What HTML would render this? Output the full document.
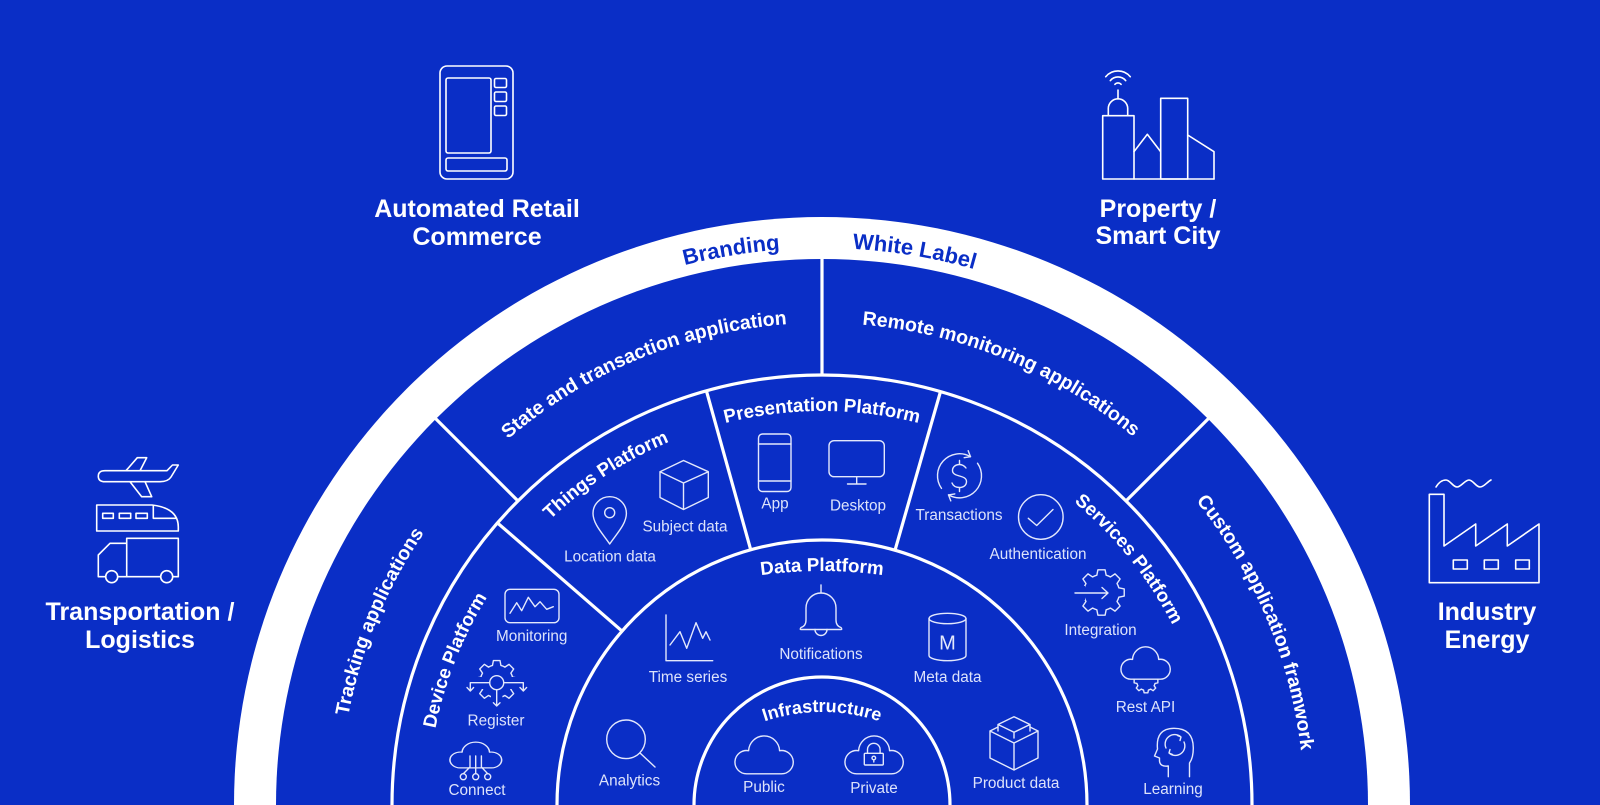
<!DOCTYPE html>
<html><head><meta charset="utf-8"><style>
html,body{margin:0;padding:0;background:#0a2ec6;overflow:hidden;width:1600px;height:805px}
svg{display:block}
</style></head><body>
<svg xmlns="http://www.w3.org/2000/svg" width="1600" height="805" viewBox="0 0 1600 805" font-family="'Liberation Sans', sans-serif" overflow="hidden">
<defs>
<path id="cloud" d="M12,40 H48 A12,12 0 1 0 45.98,16.18 A16,16 0 0 0 14.02,16.18 A12,12 0 1 0 12,40 Z"/>
<path id="gear" d="M7.53,-2.02 L9.88,-1.56 L9.88,1.56 L7.53,2.02 A7.8,7.8 0 0 1 6.75,3.9 L8.09,5.88 L5.88,8.09 L3.9,6.75 A7.8,7.8 0 0 1 2.02,7.53 L1.56,9.88 L-1.56,9.88 L-2.02,7.53 A7.8,7.8 0 0 1 -3.9,6.75 L-5.88,8.09 L-8.09,5.88 L-6.75,3.9 A7.8,7.8 0 0 1 -7.53,2.02 L-9.88,1.56 L-9.88,-1.56 L-7.53,-2.02 A7.8,7.8 0 0 1 -6.75,-3.9 L-8.09,-5.88 L-5.88,-8.09 L-3.9,-6.75 A7.8,7.8 0 0 1 -2.02,-7.53 L-1.56,-9.88 L1.56,-9.88 L2.02,-7.53 A7.8,7.8 0 0 1 3.9,-6.75 L5.88,-8.09 L8.09,-5.88 L6.75,-3.9 A7.8,7.8 0 0 1 7.53,-2.02 Z"/>
<path id="pBrand" d="M301,608.1 A557,557 0 0 1 1253,452.2"/>
<path id="pWhite" d="M392.2,450.7 A557,557 0 0 1 1343.7,609.9"/>
<path id="pState" d="M344.2,741.2 A482,482 0 0 1 1116.1,423.1"/>
<path id="pRemote" d="M528.6,422.6 A482,482 0 0 1 1299.9,742.1"/>
<path id="pTrack" d="M439.6,1098.4 A482,482 0 0 1 759.1,327.1"/>
<path id="pCustom" d="M882.4,326.8 A482,482 0 0 1 1205.9,1096.4"/>
<path id="pThings" d="M428.6,827 A394,394 0 0 1 999.7,453.3"/>
<path id="pPres" d="M480.8,608 A394,394 0 0 1 1163.2,608"/>
<path id="pDevice" d="M513.7,1050.3 A394,394 0 0 1 763.8,415.3"/>
<path id="pServ" d="M762.4,415.5 A394,394 0 0 1 1189.1,948.1"/>
<path id="pData" d="M432.3,796 A450,450 0 0 1 1211.7,796"/>
<path id="pInfra" d="M666.1,802 A180,180 0 0 1 977.9,802"/>
</defs>

<rect width="1600" height="805" fill="#0a2ec6"/>

<!-- rings (upper halves only) -->
<path d="M234,805 A588,588 0 0 1 1410,805 Z" fill="#fff"/>
<path d="M276,805 A546,546 0 0 1 1368,805 Z" fill="#0a2ec6"/>
<g stroke="#fff" stroke-width="3.2" fill="none">
  <path d="M392,805 A430,430 0 0 1 1252,805"/>
  <path d="M557,805 A265,265 0 0 1 1087,805"/>
  <path d="M694,805 A128,128 0 0 1 950,805"/>
  <line x1="822" y1="376" x2="822" y2="256"/>
  <line x1="1126.1" y1="500.9" x2="1210" y2="417"/>
  <line x1="517.9" y1="500.9" x2="434" y2="417"/>
  <line x1="895" y1="550.3" x2="940.5" y2="391.6"/>
  <line x1="750.7" y1="549.7" x2="706.4" y2="390.8"/>
  <line x1="622" y1="631.1" x2="497.5" y2="522.9"/>
</g>

<!-- ring labels -->
<g font-weight="700" text-anchor="middle">
  <text font-size="22" fill="#0a2ec6"><textPath href="#pBrand" startOffset="50%">Branding</textPath></text>
  <text font-size="22" fill="#0a2ec6"><textPath href="#pWhite" startOffset="50%">White Label</textPath></text>
  <g fill="#fff" font-size="19.5">
    <text><textPath href="#pState" startOffset="50%">State and transaction application</textPath></text>
    <text><textPath href="#pRemote" startOffset="50%">Remote monitoring applications</textPath></text>
    <text><textPath href="#pTrack" startOffset="50%">Tracking applications</textPath></text>
    <text><textPath href="#pCustom" startOffset="50%">Custom application framwork</textPath></text>
  </g>
  <g fill="#fff" font-size="18.8">
    <text><textPath href="#pThings" startOffset="50%">Things Platform</textPath></text>
    <text><textPath href="#pPres" startOffset="50%">Presentation Platform</textPath></text>
    <text><textPath href="#pDevice" startOffset="50%">Device Platform</textPath></text>
    <text><textPath href="#pServ" startOffset="50%">Services Platform</textPath></text>
    <text><textPath href="#pData" startOffset="50%">Data Platform</textPath></text>
    <text font-size="18"><textPath href="#pInfra" startOffset="50%">Infrastructure</textPath></text>
  </g>
</g>

<!-- outer category texts -->
<g fill="#fff" font-weight="700" font-size="25" text-anchor="middle">
  <text x="477" y="217">Automated Retail</text>
  <text x="477" y="245">Commerce</text>
  <text x="1158" y="217">Property /</text>
  <text x="1158" y="244">Smart City</text>
  <text x="140" y="620">Transportation /</text>
  <text x="140" y="648">Logistics</text>
  <text x="1487" y="620">Industry</text>
  <text x="1487" y="648">Energy</text>
</g>

<!-- outer icons -->
<g fill="none" stroke="#fff" stroke-width="1.6" stroke-linejoin="round" stroke-linecap="round">
  <rect x="440" y="66" width="73" height="113" rx="7"/>
  <rect x="446" y="78" width="45" height="75" rx="2"/>
  <rect x="494.5" y="78.5" width="12" height="9" rx="1.5"/>
  <rect x="494.5" y="92" width="12" height="9.5" rx="1.5"/>
  <rect x="494.5" y="106" width="12" height="9.5" rx="1.5"/>
  <rect x="446" y="158" width="61" height="13" rx="2"/>
  <rect x="1102.7" y="115.7" width="31.3" height="63.3"/>
  <path d="M1108.3,115.7 V108.5 A9.7,9.7 0 0 1 1127.7,108.5 V115.7"/>
  <path d="M1118,98.8 V90"/>
  <path d="M1114.9,84.4 A4,4 0 0 1 1121.1,84.4"/>
  <path d="M1110.3,80.6 A10,10 0 0 1 1125.7,80.6"/>
  <path d="M1105.7,76.7 A16,16 0 0 1 1130.3,76.7"/>
  <path d="M1134,151.7 L1147.3,134.3 L1160.7,151.7"/>
  <path d="M1134,179 H1214"/>
  <rect x="1160.7" y="98.3" width="27" height="80.7"/>
  <path d="M1187.7,135 L1214,151.7 V179"/>
  <path d="M105,470.7 H167 L172.5,465 H178.3 L171,477 Q168,481.7 160,481.7 H105 Q98.3,481.7 98.3,476.2 Q98.3,470.7 105,470.7 Z"/>
  <path d="M126,470.7 L137.3,457.7 H146.7 L140,470.7"/>
  <path d="M130,481.7 L141.7,496.7 H151.7 L145,481.7"/>
  <path d="M96.7,505 H152 Q178.3,508 178.3,527 V531 H96.7 Z"/>
  <path d="M153.3,505.5 V518.3 H176.5"/>
  <rect x="102.7" y="513.3" width="10.6" height="5"/>
  <rect x="119.3" y="513.3" width="11.4" height="5"/>
  <rect x="136" y="513.3" width="11.3" height="5"/>
  <rect x="126.7" y="538.3" width="51.6" height="38.4"/>
  <path d="M126.7,543.3 H110 L98.3,555 V576.7 H126.7"/>
  <circle cx="111.7" cy="576.7" r="6" fill="#0a2ec6"/>
  <circle cx="166.7" cy="576.7" r="6" fill="#0a2ec6"/>
  <path d="M1436,487 c3,-5 6,-7 10,-7 c4,0 7,7 11,7 c4,0 8,-7 12,-7 c4,0 7,7 11,7 c4,0 7,-5 11,-7"/>
  <path d="M1429.3,582.7 V494.3 H1444 V546 L1475.7,524 V546 L1507.3,524 V546 L1539,524 V582.7 Z"/>
  <rect x="1453.3" y="560" width="14" height="9"/>
  <rect x="1484.3" y="560" width="14" height="9"/>
  <rect x="1515.7" y="560" width="13.6" height="9"/>
</g>

<!-- inner icons -->
<g fill="none" stroke="#e3e8fc" stroke-width="1.4" stroke-linejoin="round" stroke-linecap="round">
  <path d="M609.7,544 C603,534 593,524 593,513.4 A16.7,16.7 0 0 1 626.4,513.4 C626.4,524 616.4,534 609.7,544 Z"/>
  <circle cx="609.7" cy="512.7" r="5"/>
  <path d="M683.5,460.5 L708.3,471.7 V497.5 L683.5,509.5 L660,497.5 V471.7 Z M660,471.7 L683.5,483 L708.3,471.7 M683.5,483 V509.5"/>
  <rect x="758.5" y="434" width="32.5" height="57.5" rx="4"/>
  <path d="M758.5,444 H791 M758.5,481 H791"/>
  <rect x="829" y="440.7" width="55.3" height="36" rx="5"/>
  <path d="M856.7,476.7 V484 M847.5,484 H866"/>
  <path d="M941.5,488.4 A22,22 0 0 1 970.5,456.7"/>
  <path d="M968.2,450.7 L970.5,456.7 L964.2,457.7"/>
  <path d="M977.5,463.2 A22,22 0 0 1 948.5,494.9"/>
  <path d="M954.8,493.9 L948.5,494.9 L950.8,500.9"/>
  <path d="M966,468 C964,465.5 962,464.5 959.5,464.5 C955.5,464.5 952.5,467 952.5,470.5 C952.5,477.5 966.5,474.5 966.5,481.5 C966.5,485.3 963.5,487.5 959.5,487.5 C955.5,487.5 953,485.5 952,483 M959.5,460.5 V464.5 M959.5,487.5 V491.5"/>
  <circle cx="1040.8" cy="517" r="22.3"/>
  <path d="M1028.3,518.3 L1036.7,525.5 L1053,509.5"/>
  <use href="#gear" transform="translate(1101.5,592.5) scale(2.3)" stroke-width="0.61"/>
  <rect x="1075" y="586" width="10" height="14" fill="#0a2ec6" stroke="none"/>
  <path d="M1075,593 H1108 M1102,587.5 L1108,593 L1102,598.5"/>
  <use href="#gear" transform="translate(1146,681) scale(1.2)" stroke-width="1.15"/>
  <use href="#cloud" transform="translate(1121,646) scale(0.82,0.83)" fill="#0a2ec6" stroke-width="1.7"/>
  <path d="M1168.3,776.7 V766 Q1160,767 1159.5,761 V758 L1154.5,756 L1157.5,749 Q1155.5,728.5 1174,728.3 Q1193.3,728.3 1193.3,748 Q1193.3,758 1189.5,763 V776.7"/>
  <path d="M1166,748 A9.5,9.5 0 0 1 1181,737 M1177.5,735.5 L1181,737 L1180,740.5"/>
  <path d="M1184,742 A9.5,9.5 0 0 1 1169,753 M1172.5,754.5 L1169,753 L1170,749.5"/>
  <rect x="505" y="589.3" width="54" height="33.4" rx="5"/>
  <path d="M510,613.3 L516.7,602.7 L521.7,610.7 L528.3,597.3 L535,606.7 L540,601.7 L546.7,609.3 L553.3,606.7"/>
  <use href="#gear" transform="translate(496.7,681.3) scale(2.1)" stroke-width="0.67"/>
  <rect x="474" y="677" width="9" height="12" fill="#0a2ec6" stroke="none"/>
  <rect x="510.5" y="677" width="9" height="12" fill="#0a2ec6" stroke="none"/>
  <rect x="491" y="695" width="11.4" height="10" fill="#0a2ec6" stroke="none"/>
  <circle cx="496.7" cy="682.7" r="7"/>
  <path d="M489.7,682.7 H470.3 V691 M467,687.5 L470.3,691 L473.6,687.5"/>
  <path d="M503.7,682.7 H523.3 V691 M520,687.5 L523.3,691 L526.6,687.5"/>
  <path d="M496.7,689.7 V706 M493.4,702.7 L496.7,706 L500,702.7"/>
  <use href="#cloud" transform="translate(450,741.5) scale(0.86,0.66)" stroke-width="1.8"/>
  <path d="M475.7,756 V773.7 M470,756 V767 L463.3,773.7 M481.4,756 V767 L487.7,773.7"/>
  <circle cx="463.3" cy="776.7" r="3"/>
  <circle cx="475.7" cy="776.7" r="3"/>
  <circle cx="487.7" cy="776.7" r="3"/>
  <path d="M666,615 V660.7 H712.7"/>
  <path d="M670,645 L680,631.7 L686.7,648.3 L696,622.7 L702.7,638.3 L706,631.7 L710,640"/>
  <path d="M821,585 V593"/>
  <path d="M806,620 V608 A15,15 0 0 1 836,608 V620 Q836,626 841,627.5 Q842.5,629.5 841,629.5 H801 Q799.5,629.5 801,627.5 Q806,626 806,620 Z"/>
  <path d="M815,629.5 A6,6 0 0 0 827,629.5"/>
  <ellipse cx="947.5" cy="618.5" rx="18.5" ry="5.2"/>
  <path d="M929,618.5 V655.5 A18.5,5.2 0 0 0 966,655.5 V618.5"/>
  <circle cx="626" cy="739.3" r="19.3"/>
  <path d="M640,753 L655,767"/>
  <path d="M990,731 L1014,743 L1038,731 M990,731 V758 L1014,770 L1038,758 V731 M1014,743 V770 M990,731 L998,727 M1038,731 L1030,727"/>
  <path d="M998,724.5 L1014,716.7 L1030,724.5 L1014,732.3 Z M998,724.5 V731 M1030,724.5 V731 M1014,732.3 V738"/>
  <use href="#cloud" transform="translate(735,735) scale(0.97)" stroke-width="1.45"/>
  <use href="#cloud" transform="translate(845,735) scale(0.97)" stroke-width="1.45"/>
  <rect x="864.3" y="753.3" width="19" height="11.7" rx="1"/>
  <path d="M867.5,753.3 V749.6 A6.3,6.3 0 0 1 880.1,749.6 V753.3"/>
  <circle cx="873.8" cy="758" r="1.8"/>
  <path d="M873.8,759.8 V762"/>
</g>
<text x="947.5" y="649.5" font-size="20" fill="#e3e8fc" text-anchor="middle">M</text>

<!-- item labels -->
<g fill="#dde3fb" font-size="15.3" text-anchor="middle">
  <text x="610" y="561.5">Location data</text>
  <text x="685" y="531.5">Subject data</text>
  <text x="775" y="508.5">App</text>
  <text x="858" y="510.5">Desktop</text>
  <text x="959" y="520">Transactions</text>
  <text x="1038" y="559">Authentication</text>
  <text x="1100.5" y="635">Integration</text>
  <text x="1145.5" y="712">Rest API</text>
  <text x="1173" y="794">Learning</text>
  <text x="531.7" y="641">Monitoring</text>
  <text x="496" y="725.5">Register</text>
  <text x="477" y="795">Connect</text>
  <text x="688" y="682">Time series</text>
  <text x="821" y="659">Notifications</text>
  <text x="947.5" y="682">Meta data</text>
  <text x="629.5" y="785.5">Analytics</text>
  <text x="1016" y="788">Product data</text>
  <text x="764" y="792">Public</text>
  <text x="874" y="793">Private</text>
</g>
</svg>
</body></html>
